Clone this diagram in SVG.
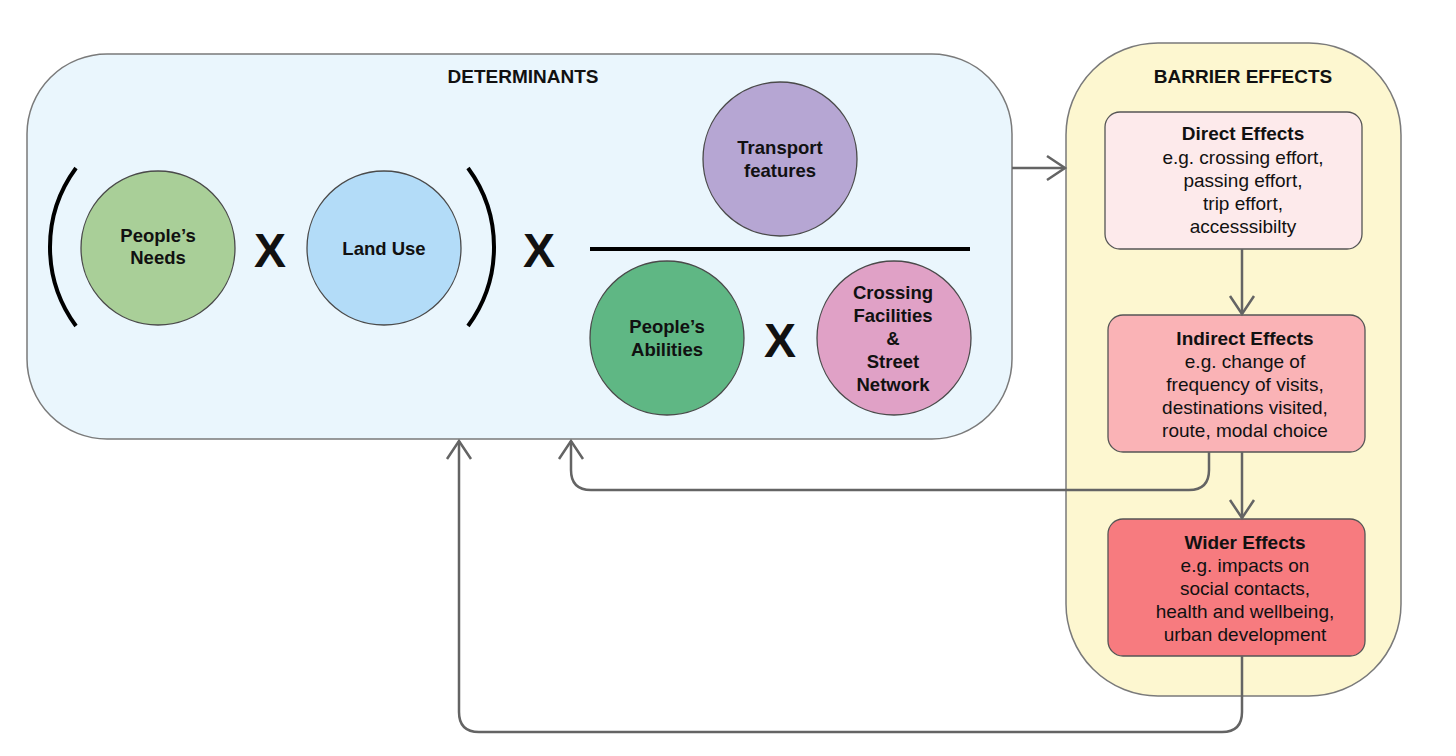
<svg xmlns="http://www.w3.org/2000/svg" width="1456" height="756" viewBox="0 0 1456 756">
<defs>
<marker id="arr" markerUnits="userSpaceOnUse" viewBox="-22 -15 25 30" markerWidth="25" markerHeight="30" refX="0" refY="0" orient="auto" overflow="visible">
<path d="M-18,-12 L0,0 L-18,12" fill="none" stroke="#646464" stroke-width="2.5" stroke-linejoin="miter"/>
</marker>
<style>
.t{font-family:"Liberation Sans",Arial,sans-serif;fill:#111;text-anchor:middle}
.b{font-weight:bold}
.lbl{font-size:18.5px}
.ttl{font-size:19px}
.body{font-size:19px}
.big{font-size:48px;font-weight:bold}
.circ{stroke:#4a4a4a;stroke-width:1.3}
.box{stroke:#7a7a7a;stroke-width:1.5}
.eff{stroke:#555;stroke-width:1.3}
.con{fill:none;stroke:#646464;stroke-width:2.5}
.sym{fill:none;stroke:#000;stroke-width:4}
</style>
</defs>
<rect width="1456" height="756" fill="#fff"/>

<g id="determinants">
<rect class="box" x="27" y="54" width="985" height="385" rx="80" ry="80" fill="#eaf6fd"/>
<text class="t b ttl" x="523" y="83">DETERMINANTS</text>
<path class="sym" d="M76,168 A133,133 0 0 0 76,326"/>
<path class="sym" d="M468,168 A133,133 0 0 1 468,326"/>
<text class="t big" x="270" y="267">X</text>
<text class="t big" x="539" y="267">X</text>
<line class="sym" x1="590" y1="249" x2="970" y2="249"/>
<text class="t big" x="780" y="357">X</text>
</g>

<g id="peoples-needs">
<circle class="circ" cx="158" cy="248" r="77" fill="#a9cf98"/>
<text class="t b lbl" x="158" y="242">People’s</text>
<text class="t b lbl" x="158" y="264">Needs</text>
</g>

<g id="land-use">
<circle class="circ" cx="384" cy="248" r="77" fill="#b3dcf8"/>
<text class="t b lbl" x="384" y="255">Land Use</text>
</g>

<g id="transport-features">
<circle class="circ" cx="780" cy="159" r="77" fill="#b6a6d3"/>
<text class="t b lbl" x="780" y="154">Transport</text>
<text class="t b lbl" x="780" y="177">features</text>
</g>

<g id="peoples-abilities">
<circle class="circ" cx="667" cy="338" r="77" fill="#5fb784"/>
<text class="t b lbl" x="667" y="333">People’s</text>
<text class="t b lbl" x="667" y="356">Abilities</text>
</g>

<g id="crossing-facilities">
<circle class="circ" cx="894" cy="338" r="77" fill="#e0a1c6"/>
<text class="t b lbl" x="893" y="299">Crossing</text>
<text class="t b lbl" x="893" y="322">Facilities</text>
<text class="t b lbl" x="893" y="345">&amp;</text>
<text class="t b lbl" x="893" y="368">Street</text>
<text class="t b lbl" x="893" y="391">Network</text>
</g>

<g id="barrier-effects">
<rect class="box" x="1066" y="43" width="335" height="653" rx="92" ry="92" fill="#fdf7d0"/>
<text class="t b ttl" x="1243" y="83">BARRIER EFFECTS</text>
</g>

<g id="direct-effects">
<rect class="eff" x="1105" y="112" width="257" height="137" rx="15" ry="15" fill="#fdeaeb"/>
<text class="t b body" x="1243" y="140">Direct Effects</text>
<text class="t body" x="1243" y="164">e.g. crossing effort,</text>
<text class="t body" x="1243" y="187">passing effort,</text>
<text class="t body" x="1243" y="210">trip effort,</text>
<text class="t body" x="1243" y="233">accesssibilty</text>
</g>

<g id="indirect-effects">
<rect class="eff" x="1108" y="315" width="257" height="137" rx="15" ry="15" fill="#fab3b6"/>
<text class="t b body" x="1245" y="345">Indirect Effects</text>
<text class="t body" x="1245" y="368">e.g. change of</text>
<text class="t body" x="1245" y="391">frequency of visits,</text>
<text class="t body" x="1245" y="414">destinations visited,</text>
<text class="t body" x="1245" y="437">route, modal choice</text>
</g>

<g id="wider-effects">
<rect class="eff" x="1108" y="519" width="257" height="137" rx="15" ry="15" fill="#f77b7f"/>
<text class="t b body" x="1245" y="549">Wider Effects</text>
<text class="t body" x="1245" y="572">e.g. impacts on</text>
<text class="t body" x="1245" y="595">social contacts,</text>
<text class="t body" x="1245" y="618">health and wellbeing,</text>
<text class="t body" x="1245" y="641">urban development</text>
</g>

<g id="connectors">
<path class="con" d="M1012,168 H1065" marker-end="url(#arr)"/>
<path class="con" d="M1242,249 V314" marker-end="url(#arr)"/>
<path class="con" d="M1242,452 V518" marker-end="url(#arr)"/>
<path class="con" d="M1209,452 V470 Q1209,490 1189,490 H591 Q571,490 571,470 V441" marker-end="url(#arr)"/>
<path class="con" d="M1242,656 V712 Q1242,732 1222,732 H479 Q459,732 459,712 V441" marker-end="url(#arr)"/>
</g>
</svg>
